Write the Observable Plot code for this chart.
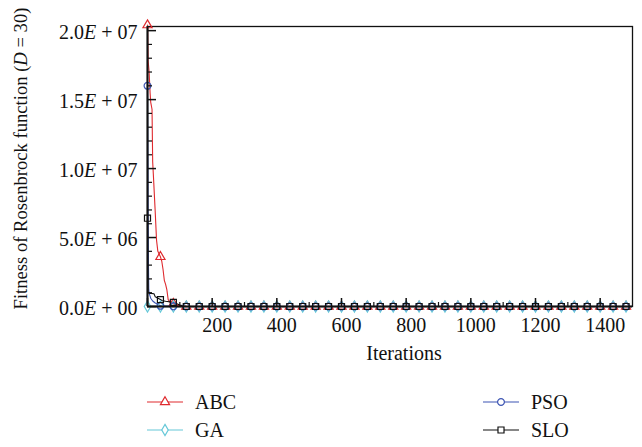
<!DOCTYPE html>
<html><head><meta charset="utf-8">
<script src="https://cdn.jsdelivr.net/npm/d3@7"></script>
<script src="https://cdn.jsdelivr.net/npm/@observablehq/plot@0.6"></script>
<style>
body{margin:0;background:#fff;font-family:"Liberation Serif",serif;color:#111;}
#wrap{position:relative;width:642px;height:447px;overflow:hidden;}
#legend{position:relative;width:642px;height:72px;}
.leg{position:absolute;display:flex;align-items:center;font-size:20px;line-height:20px;}
.leg svg{margin-right:12px;}
</style></head><body><div id="wrap"><div id="chart"></div><div id="legend"></div></div>
<script>
// ---- data ----
const seriesNames   = ["ABC", "GA", "PSO", "SLO"];
const seriesColors  = ["#df2a2e", "#66c8d8", "#3d55b3", "#111111"];
const seriesSymbols = ["triangle", "diamond", "circle", "square"];

const abcIters  = [0, 2, 5, 8, 10, 14, 16, 18, 21, 24, 28, 32, 40, 44, 48, 52, 56, 60, 64, 70, 80, 100];
const abcValues = [2.04e7, 1.78e7, 1.70e7, 1.55e7, 1.48e7, 1.43e7, 1.05e7, 9.6e6, 8.2e6, 6.8e6, 4.8e6, 4.0e6, 3.6e6, 3.3e6, 2.7e6, 1.9e6, 1.6e6, 1.2e6, 0.5e6, 0.3e6, 0.2e6, 0.05e6];

const gaIters   = [0, 40, 80, 100];
const gaValues  = [0, 0, 0, 0];

const psoIters  = [0, 1, 2, 3, 4, 6, 10, 16, 24, 40, 80, 100];
const psoValues = [1.6e7, 1.2e7, 7.0e6, 3.0e6, 1.2e6, 0.9e6, 0.6e6, 0.4e6, 0.25e6, 0.05e6, 0.01e6, 0];

const sloIters  = [0, 1, 2, 6, 10, 20, 24, 31, 40, 46, 56, 80, 100];
const sloValues = [6.4e6, 3.0e6, 1.0e6, 0.97e6, 0.95e6, 0.92e6, 0.7e6, 0.62e6, 0.5e6, 0.42e6, 0.38e6, 0.3e6, 0.1e6];

// from iteration 120 on every algorithm sits at ~0
const tailIters = [120, 160, 200, 240, 280, 320, 360, 400, 440, 480, 520, 560, 600, 640, 680, 720, 760, 800, 840, 880, 920, 960, 1000, 1040, 1080, 1120, 1160, 1200, 1240, 1280, 1320, 1360, 1400, 1440, 1480, 1500];
const tailValue = 0;

const xTicks = [200, 400, 600, 800, 1000, 1200, 1400];
const xTickLabels = ["200", "400", "600", "800", "1000", "1200", "1400"];
const xMajorTicks = [0, 200, 400, 600, 800, 1000, 1200, 1400];
const xMinorTicks = [100, 300, 500, 700, 900, 1100, 1300];
const yTicks = [0, 5e6, 1e7, 1.5e7, 2e7];
const yTickLabels = ["0.0E + 00", "5.0E + 06", "1.0E + 07", "1.5E + 07", "2.0E + 07"];
const yMinorTicks = [1e6, 2e6, 3e6, 4e6, 6e6, 7e6, 8e6, 9e6, 11e6, 12e6, 13e6, 14e6, 16e6, 17e6, 18e6, 19e6];
const xLabel = "Iterations";
const yLabel = "Fitness of Rosenbrock function (D = 30)";
const markerEvery = 40;

// ---- build table ----
const raw = [[abcIters, abcValues], [gaIters, gaValues], [psoIters, psoValues], [sloIters, sloValues]];
const data = [];
raw.forEach(([its, vals], k) => {
  its.forEach((it, i) => data.push({series: seriesNames[k], it, v: vals[i]}));
  tailIters.forEach(it => data.push({series: seriesNames[k], it, v: tailValue}));
});
const markers = data.filter(d => d.it % markerEvery === 0);

const FS = 20;
const plot = Plot.plot({
  width: 642, height: 375,
  marginLeft: 147, marginRight: 10, marginTop: 26, marginBottom: 69,
  style: {fontFamily: '"Liberation Serif", serif', fontSize: FS + "px", color: "#111", background: "white"},
  x: {domain: [0, 1500]},
  y: {domain: [0, 2.03e7]},
  color: {domain: seriesNames, range: seriesColors},
  symbol: {domain: seriesNames, range: seriesSymbols},
  marks: [
    Plot.frame({stroke: "#111", strokeWidth: 1.3}),
    Plot.line(data, {x: "it", y: "v", z: "series", stroke: "series", strokeWidth: 1.1}),
    Plot.dot(markers, {x: "it", y: "v", symbol: "series", stroke: "series", r: 3.4, strokeWidth: 1.2, fill: "none"}),
    Plot.ruleX([0], {stroke: "#111", strokeWidth: 2}),
    Plot.ruleY([0], {stroke: "#111", strokeWidth: 2}),
    // inward ticks
    Plot.ruleX(xMajorTicks, {x: d => d, y1: 0, y2: 0, insetBottom: 8, stroke: "#111", strokeWidth: 1.5}),
    Plot.ruleX(xMinorTicks, {x: d => d, y1: 0, y2: 0, insetBottom: 4, stroke: "#111", strokeWidth: 1.2}),
    Plot.ruleY(yTicks, {y: d => d, x1: 0, x2: 0, insetRight: -9, stroke: "#111", strokeWidth: 1.5}),
    Plot.ruleY(yMinorTicks, {y: d => d, x1: 0, x2: 0, insetRight: -5, stroke: "#111", strokeWidth: 1.2}),
    Plot.axisX(xTicks, {tickSize: 0, tickPadding: 11, dx: 5, label: null, fontSize: FS,
      tickFormat: d => xTickLabels[xTicks.indexOf(d)]}),
    Plot.axisY(yTicks, {tickSize: 0, tickPadding: 10, dy: 2, label: null, fontSize: FS,
      tickFormat: d => yTickLabels[yTicks.indexOf(d)]}),
    Plot.text([xLabel], {frameAnchor: "bottom", dy: 53, dx: 14, fontSize: FS, fill: "#111"}),
    Plot.text([yLabel], {frameAnchor: "left", textAnchor: "middle", rotate: -90, dx: -126, dy: -8, fontSize: 18.6, fill: "#111", ariaLabel: "ylabel"})
  ]
});
document.getElementById("chart").appendChild(plot);

// italic letters (E in tick labels, D in axis label)
const svg = d3.select(plot);
svg.selectAll("g[aria-label='y-axis tick label'] text").each(function() {
  const t = this.textContent; const parts = t.split("E");
  const sel = d3.select(this); sel.text(null);
  sel.append("tspan").text(parts[0]);
  sel.append("tspan").attr("font-style", "italic").text("E");
  sel.append("tspan").text(parts[1]);
});
svg.selectAll("text").filter(function() { return this.textContent === yLabel; }).each(function() {
  const t = this.textContent; const idx = t.indexOf("D =");
  const sel = d3.select(this); sel.text(null);
  sel.append("tspan").text(t.slice(0, idx));
  sel.append("tspan").attr("font-style", "italic").text("D");
  sel.append("tspan").text(t.slice(idx + 1));
});

// legend
const legendPos = [[147, 27], [147, 55], [483, 27], [483, 55]];
const symMap = {triangle: d3.symbolTriangle, diamond: d3.symbolDiamond, circle: d3.symbolCircle, square: d3.symbolSquare};
const leg = d3.select("#legend");
seriesNames.forEach((name, k) => {
  const item = leg.append("div").attr("class", "leg")
    .style("left", legendPos[k][0] + "px").style("top", (legendPos[k][1] - 10) + "px");
  const s = item.append("svg").attr("width", 36).attr("height", 20);
  s.append("line").attr("x1", 0).attr("x2", 36).attr("y1", 10).attr("y2", 10)
    .attr("stroke", seriesColors[k]).attr("stroke-width", 1.2);
  s.append("path").attr("transform", "translate(18,10)")
    .attr("d", d3.symbol(symMap[seriesSymbols[k]], Math.PI * 3.4 * 3.4)())
    .attr("fill", "white").attr("stroke", seriesColors[k]).attr("stroke-width", 1.2);
  item.append("span").text(name);
});
</script></body></html>
